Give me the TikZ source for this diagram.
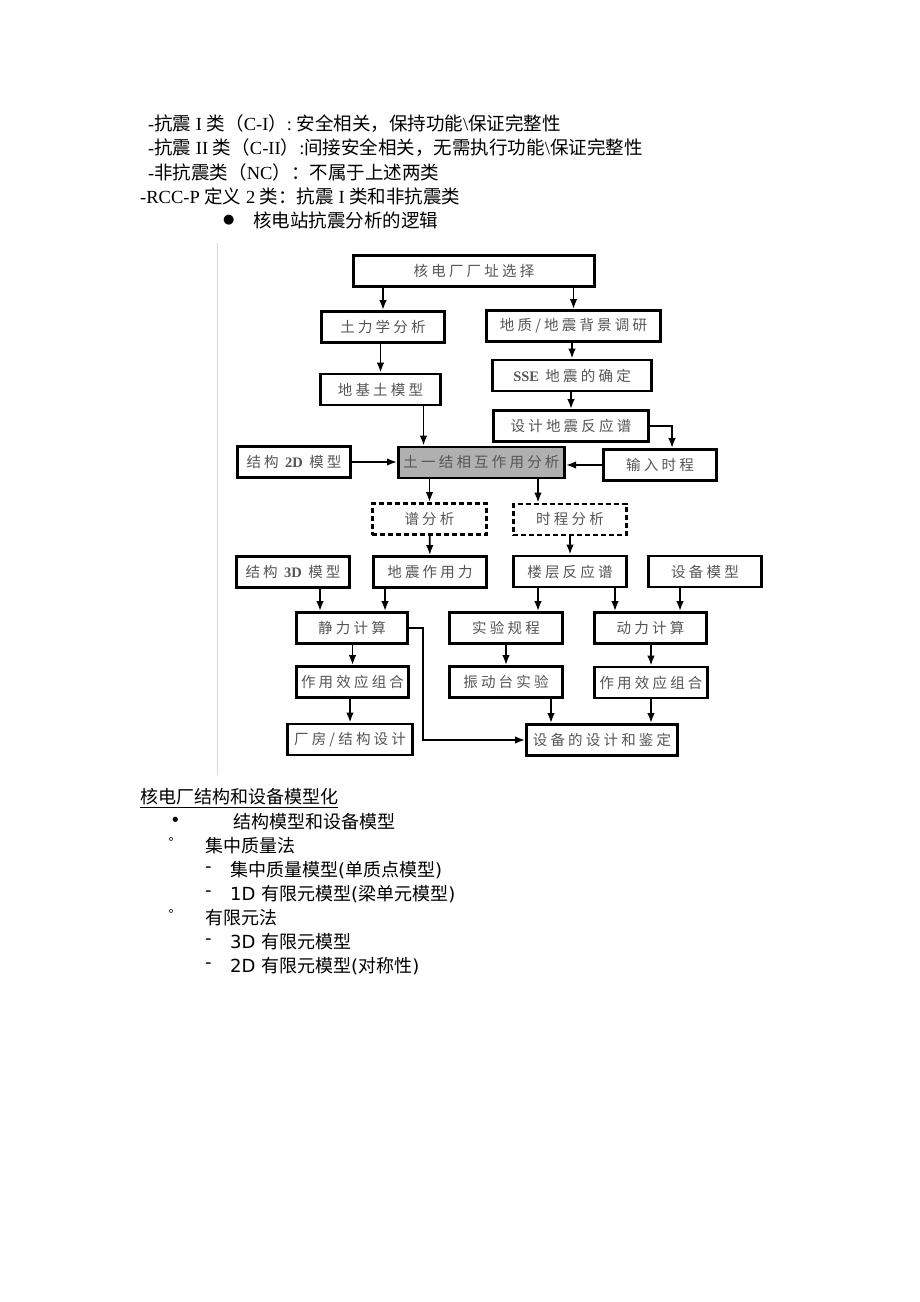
\documentclass[tikz,border=0pt]{standalone}
\usepackage{fontspec}
\setmainfont{Liberation Serif}
\newfontfamily\cjk{Noto Sans CJK SC}
\newfontfamily\boxfont[LetterSpace=22]{Noto Sans CJK SC}
\newfontfamily\verd{DejaVu Sans}
\usetikzlibrary{arrows.meta}
\definecolor{ssigray}{RGB}{176,176,176}
\definecolor{boxtext}{RGB}{85,85,85}

\begin{document}
\begin{tikzpicture}[x=1pt, y=-1pt,
  stepbox/.style={draw, line width=2.8pt, inner sep=0pt, minimum height=31pt,
    text=boxtext, font=\boxfont\fontsize{14.5}{14.5}\selectfont},
  dashbox/.style={stepbox, dash pattern=on 5pt off 3pt},
  ssibox/.style={stepbox, fill=ssigray},
  arr/.style={line width=1.8pt, -{Latex[length=10pt,width=7.5pt]}},
  textline/.style={anchor=west, inner sep=0pt, font=\fontsize{18.5}{24}\selectfont},
  noteline/.style={anchor=west, inner sep=0pt, font=\verd\fontsize{18}{24}\selectfont}]
\useasboundingbox (0,0) rectangle (920,1302);
\def\Step#1#2#3#4#5{
\node[#1, minimum width=#4] (#2) at (#3) {#5};
}

% classes of seismic categories
\node[textline] (c1) at (148,124) {-{\cjk 抗震} I {\cjk 类（}C-I{\cjk ）}:\ {\cjk 安全相关，保持功能}\textbackslash{\cjk 保证完整性}};
\node[textline] (c2) at (148,148) {-{\cjk 抗震} II {\cjk 类（}C-II{\cjk ）}:{\cjk 间接安全相关，无需执行功能}\textbackslash{\cjk 保证完整性}};
\node[textline] (c3) at (148,172) {-{\cjk 非抗震类（}NC{\cjk ）：不属于上述两类}};
\node[textline] (c4) at (140,196) {-RCC-P {\cjk 定义} 2 {\cjk 类：抗震} I {\cjk 类和非抗震类}};
\node[textline, font=\verd\fontsize{13}{13}\selectfont] (dot) at (223,220) {●};
\node[textline] (c5) at (253,220) {\cjk 核电站抗震分析的逻辑};

% frame edge of the figure
\draw[gray!30, line width=1pt] (217,243) -- (217,775);

% flow chart boxes
\Step{stepbox}{site}{474,271}{241.2pt}{核电厂厂址选择}
\Step{stepbox}{soil}{383,327}{123.2pt}{土力学分析}
\Step{stepbox}{geo}{573.5,326}{174.2pt}{地质/地震背景调研}
\Step{stepbox}{found}{380.5,389.5}{120.2pt}{地基土模型}
\Step{stepbox}{sse}{572,375.5}{159.2pt}{{\rmfamily\bfseries SSE} 地震的确定}
\Step{stepbox}{spec}{571,426}{155.2pt}{设计地震反应谱}
\Step{stepbox}{mod2d}{294,462}{113.2pt}{结构 {\rmfamily\bfseries 2D} 模型}
\Step{ssibox}{ssi}{481.5,462.5}{166.2pt}{土一结相互作用分析}
\Step{stepbox}{inp}{660,465}{113.2pt}{输入时程}
\Step{dashbox}{rsa}{429.5,519}{114.2pt}{谱分析}
\Step{dashbox}{tha}{570,519.5}{113.2pt}{时程分析}
\Step{stepbox}{mod3d}{293,572}{113.2pt}{结构 {\rmfamily\bfseries 3D} 模型}
\Step{stepbox}{force}{430,572}{113.2pt}{地震作用力}
\Step{stepbox}{floor}{570,571.5}{113.2pt}{楼层反应谱}
\Step{stepbox}{equip}{705,571.5}{113.2pt}{设备模型}
\Step{stepbox}{stat}{352,628}{111.2pt}{静力计算}
\Step{stepbox}{combl}{352.5,682}{112.2pt}{作用效应组合}
\Step{stepbox}{plant}{350,739.5}{125.2pt}{厂房/结构设计}
\Step{stepbox}{proc}{506,628}{113.2pt}{实验规程}
\Step{stepbox}{shake}{506,682}{113.2pt}{振动台实验}
\Step{stepbox}{dyn}{650.5,628}{112.2pt}{动力计算}
\Step{stepbox}{combr}{651,682.5}{113.2pt}{作用效应组合}
\Step{stepbox}{qual}{602,740}{151.2pt}{设备的设计和鉴定}

% arrows
\draw[arr] (site.south -| soil.north) -- (soil.north);
\draw[arr] (site.south -| geo.north) -- (geo.north);
\draw[arr] (soil.south -| found.north) -- (found.north);
\draw[arr] (geo.south -| sse.north) -- (sse.north);
\draw[arr] (sse.south -| spec.north) -- (spec.north);
\draw[arr] ([xshift=43pt]found.south) -- ([xshift=43pt]found.south |- ssi.north);
\draw[arr] (spec.east) -| ([xshift=12pt]inp.north);
\draw[arr] (mod2d.east) -- (mod2d.east -| ssi.west);
\draw[arr] (inp.west) -- (inp.west -| ssi.east);
\draw[arr] (ssi.south -| rsa.north) -- (rsa.north);
\draw[arr] ([xshift=-32pt]tha.north |- ssi.south) -- ([xshift=-32pt]tha.north);
\draw[arr] (rsa) -- (force);
\draw[arr] (tha) -- (floor);
\draw[arr] ([xshift=27pt]mod3d.south) -- ([xshift=27pt]mod3d.south |- stat.north);
\draw[arr] ([xshift=-45pt]force.south) -- ([xshift=-45pt]force.south |- stat.north);
\draw[arr] ([xshift=-32pt]floor.south) -- ([xshift=-32pt]floor.south |- proc.north);
\draw[arr] ([xshift=45pt]floor.south) -- ([xshift=45pt]floor.south |- dyn.north);
\draw[arr] ([xshift=-25pt]equip.south) -- ([xshift=-25pt]equip.south |- dyn.north);
\draw[arr] (stat.south -| combl.north) -- (combl.north);
\draw[arr] (combl.south -| plant.north) -- (plant.north);
\draw[arr] (proc) -- (shake);
\draw[arr] (dyn.south -| combr.north) -- (combr.north);
\draw[arr] ([xshift=45pt]shake.south) -- ([xshift=45pt]shake.south |- qual.north);
\draw[arr] (combr.south) -- (combr.south |- qual.north);
\draw[arr] (stat.east) -- ++(14pt,0) |- (qual.west);

% modelling notes
\node[noteline] (head) at (140,798) {\cjk\underline{核电厂结构和设备模型化}};
\node[noteline] (b1) at (170,822) {•};
\node[noteline] (n1) at (233,822) {\cjk 结构模型和设备模型};
\node[noteline, font=\verd\fontsize{12}{12}\selectfont] (o1) at (168,842) {°};
\node[noteline] (n2) at (205,846) {\cjk 集中质量法};
\node[noteline] (d1) at (205,870) {-};
\node[noteline] (n3) at (230,870) {{\cjk 集中质量模型}({\cjk 单质点模型})};
\node[noteline] (d2) at (205,894) {-};
\node[noteline] (n4) at (230,894) {1D {\cjk 有限元模型}({\cjk 梁单元模型})};
\node[noteline, font=\verd\fontsize{12}{12}\selectfont] (o2) at (168,914) {°};
\node[noteline] (n5) at (205,918) {\cjk 有限元法};
\node[noteline] (d3) at (205,942) {-};
\node[noteline] (n6) at (230,942) {3D {\cjk 有限元模型}};
\node[noteline] (d4) at (205,966) {-};
\node[noteline] (n7) at (230,966) {2D {\cjk 有限元模型}({\cjk 对称性})};
\end{tikzpicture}
\end{document}
